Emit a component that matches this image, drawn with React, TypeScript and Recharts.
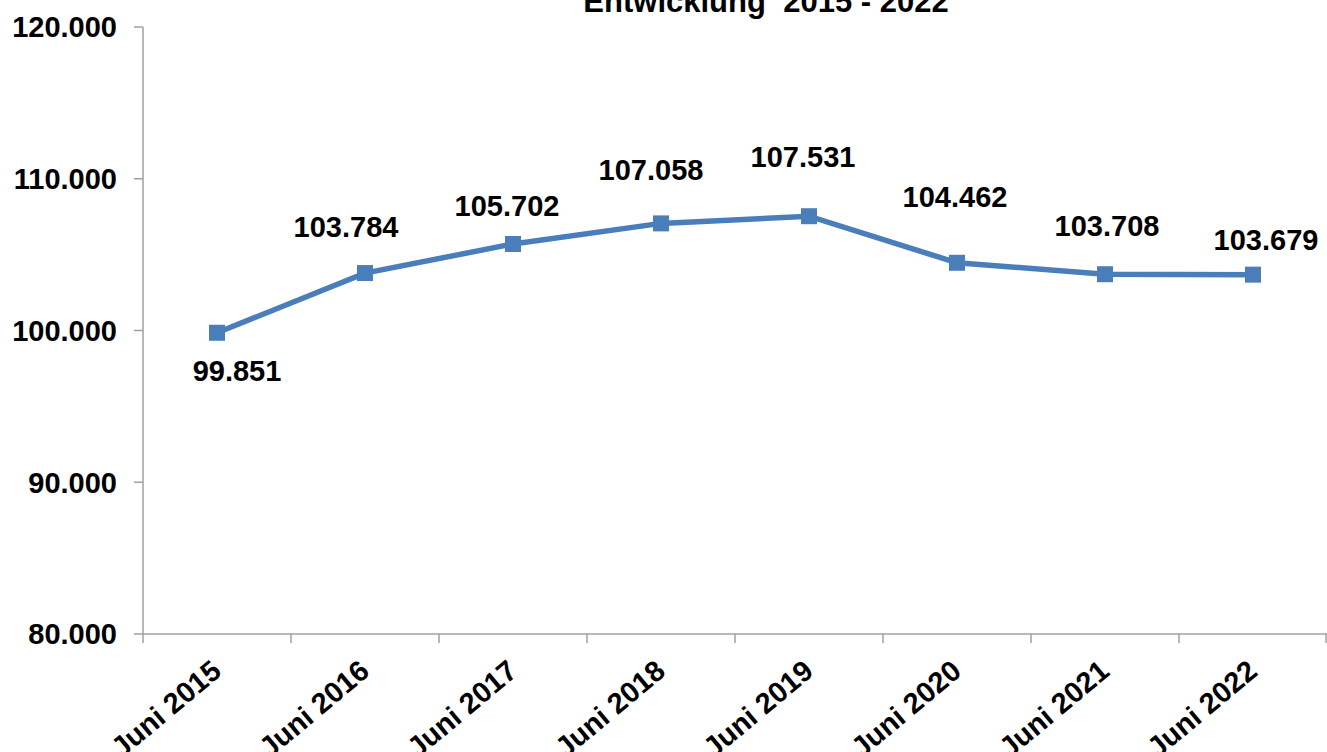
import React from "react";
import { LineChart, Line, XAxis, YAxis, LabelList } from "recharts";

const categories = [
  "Juni 2015",
  "Juni 2016",
  "Juni 2017",
  "Juni 2018",
  "Juni 2019",
  "Juni 2020",
  "Juni 2021",
  "Juni 2022",
];
const values = [99851, 103784, 105702, 107058, 107531, 104462, 103708, 103679];
const yTicks = [80000, 90000, 100000, 110000, 120000];

// label nudges relative to each point (dx, baseline dy)
const labelNudge: [number, number][] = [
  [20, 48],
  [-19, -36],
  [-6, -28],
  [-10, -43],
  [-6, -49],
  [-2, -56],
  [2, -38],
  [13, -25],
];

const data = categories.map((name, i) => ({ name, value: values[i] }));

const W = 1327;
const H = 752;
const LEFT = 143;
const TOP = 27;
const BOTTOM = 634;
const BAND = (W - LEFT) / categories.length;
const AXIS = "#a0a0a0";
const BLUE = "#4a7ebb";
const FONT = "'Liberation Sans', Arial, sans-serif";

const fmt = (v: number) => String(v).replace(/\B(?=(\d{3})+(?!\d))/g, ".");

const SquareDot = (props: any) => {
  const { cx, cy } = props;
  if (cx == null || cy == null) return null;
  return <rect x={cx - 8} y={cy - 8} width={16} height={16} fill={BLUE} />;
};

const XTick = (props: any) => {
  const { x, payload, index } = props;
  const lx = x - BAND / 2;
  const ty = 674;
  const tx = x + 6;
  return (
    <g>
      <line x1={lx} y1={BOTTOM} x2={lx} y2={BOTTOM + 9} stroke={AXIS} strokeWidth={1.5} />
      {index === categories.length - 1 && (
        <line x1={x + BAND / 2 - 1} y1={BOTTOM} x2={x + BAND / 2 - 1} y2={BOTTOM + 9} stroke={AXIS} strokeWidth={1.5} />
      )}
      <text
        x={tx}
        y={ty}
        textAnchor="end"
        transform={`rotate(-40, ${tx}, ${ty})`}
        fontFamily={FONT}
        fontWeight="bold"
        fontSize={29}
        fill="#000"
      >
        {payload.value}
      </text>
    </g>
  );
};

const ValueLabel = (props: any) => {
  const { x, y, index, value } = props;
  const [dx, dy] = labelNudge[index] || [0, -30];
  return (
    <text
      x={x + dx}
      y={y + dy}
      textAnchor="middle"
      fontFamily={FONT}
      fontWeight="bold"
      fontSize={29}
      fill="#000"
    >
      {fmt(value)}
    </text>
  );
};

export default function App() {
  return (
    <div
      style={{
        position: "absolute",
        left: 0,
        top: 0,
        width: W,
        height: H,
        overflow: "hidden",
        background: "#fff",
      }}
    >
      <div
        style={{
          position: "absolute",
          left: 766,
          top: -14,
          transform: "translateX(-50%)",
          fontFamily: FONT,
          fontWeight: "bold",
          fontSize: 31,
          lineHeight: "31px",
          whiteSpace: "pre",
          color: "#000",
        }}
      >
        Entwicklung  2015 - 2022
      </div>
      <LineChart
        width={W}
        height={H}
        data={data}
        margin={{ top: TOP, right: 0, bottom: 0, left: 0 }}
      >
        <XAxis
          dataKey="name"
          height={H - BOTTOM}
          padding={{ left: BAND / 2, right: BAND / 2 }}
          axisLine={{ stroke: AXIS, strokeWidth: 1.5 }}
          tickLine={false}
          tick={<XTick />}
          interval={0}
        />
        <YAxis
          width={LEFT}
          domain={[80000, 120000]}
          ticks={yTicks}
          tickFormatter={fmt}
          axisLine={{ stroke: AXIS, strokeWidth: 1.5 }}
          tickLine={{ stroke: AXIS, strokeWidth: 1.5 }}
          tickSize={9}
          tickMargin={17}
          tick={{ fontFamily: FONT, fontWeight: "bold", fontSize: 29, fill: "#000" }}
        />
        <Line
          dataKey="value"
          stroke={BLUE}
          strokeWidth={5.5}
          dot={<SquareDot />}
          activeDot={false}
          isAnimationActive={false}
        >
          <LabelList dataKey="value" content={<ValueLabel />} />
        </Line>
      </LineChart>
    </div>
  );
}
